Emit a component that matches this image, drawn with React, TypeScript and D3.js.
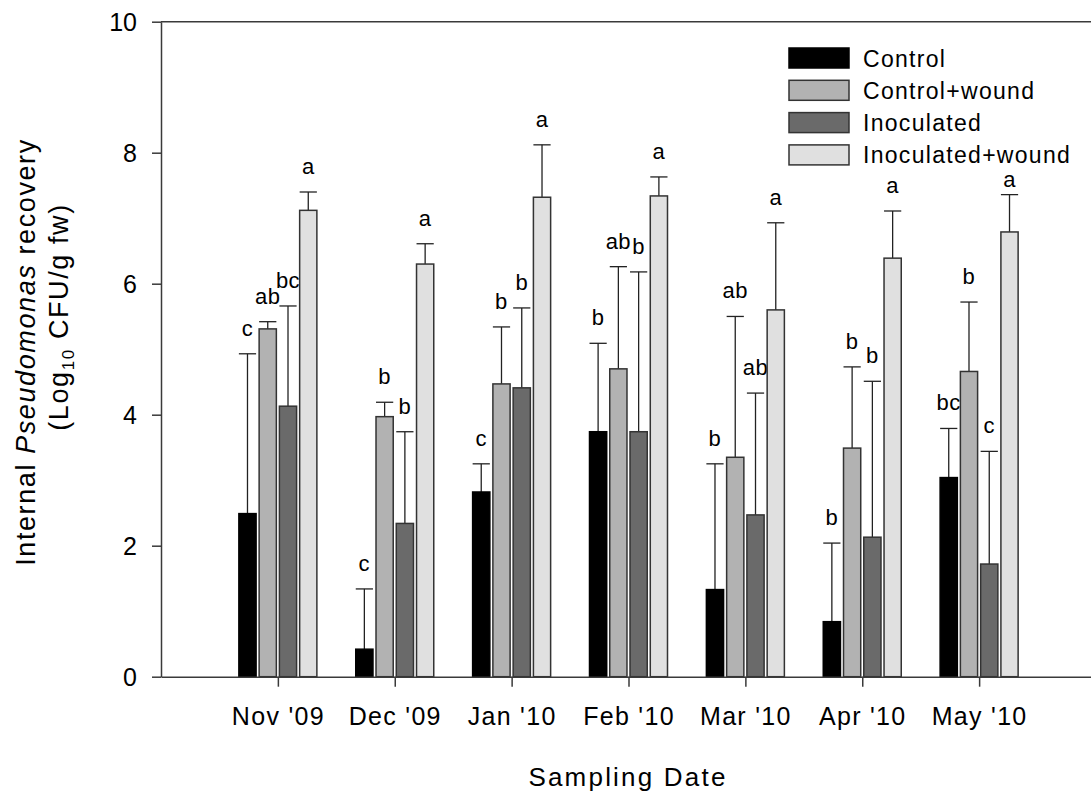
import React, { useEffect, useRef } from "react";
import * as d3 from "d3";

// Sampling dates and treatment groups
const dates = ["Nov '09", "Dec '09", "Jan '10", "Feb '10", "Mar '10", "Apr '10", "May '10"];
const treatments = ["Control", "Control+wound", "Inoculated", "Inoculated+wound"];

// Mean internal recovery (log10 CFU/g fw) per date
const controlMean = [2.49, 0.42, 2.82, 3.74, 1.33, 0.84, 3.04];
const controlWoundMean = [5.31, 3.97, 4.47, 4.70, 3.35, 3.49, 4.66];
const inoculatedMean = [4.13, 2.34, 4.41, 3.74, 2.47, 2.13, 1.72];
const inoculatedWoundMean = [7.12, 6.30, 7.32, 7.34, 5.60, 6.39, 6.79];

// Standard error (upper bar only)
const controlSE = [2.44, 0.92, 0.43, 1.35, 1.92, 1.20, 0.75];
const controlWoundSE = [0.11, 0.22, 0.87, 1.56, 2.15, 1.24, 1.06];
const inoculatedSE = [1.53, 1.40, 1.22, 2.44, 1.86, 2.38, 1.72];
const inoculatedWoundSE = [0.28, 0.31, 0.80, 0.29, 1.33, 0.72, 0.57];

// Mean separation letters
const controlLetters = ["c", "c", "c", "b", "b", "b", "bc"];
const controlWoundLetters = ["ab", "b", "b", "ab", "ab", "b", "b"];
const inoculatedLetters = ["bc", "b", "b", "b", "ab", "b", "c"];
const inoculatedWoundLetters = ["a", "a", "a", "a", "a", "a", "a"];

const yTicks = [0, 2, 4, 6, 8, 10];

const fills = ["#000000", "#b2b2b2", "#6a6a6a", "#e0e0e0"];

const series = [
  { name: treatments[0], mean: controlMean, se: controlSE, letters: controlLetters },
  { name: treatments[1], mean: controlWoundMean, se: controlWoundSE, letters: controlWoundLetters },
  { name: treatments[2], mean: inoculatedMean, se: inoculatedSE, letters: inoculatedLetters },
  { name: treatments[3], mean: inoculatedWoundMean, se: inoculatedWoundSE, letters: inoculatedWoundLetters },
];

const W = 1091;
const H = 791;
const FONT = "'Liberation Sans', Arial, sans-serif";
const AXIS = "#3a3a3a";

export default function App() {
  const ref = useRef<SVGSVGElement>(null);

  useEffect(() => {
    const svg = d3.select(ref.current);
    svg.selectAll("*").remove();

    const left = 161;
    const top = 21.7;
    const bottom = 676.7;

    const x = d3.scaleLinear().domain([0, dates.length + 1]).range([left, 1096]);
    const y = d3.scaleLinear().domain([0, 10]).range([bottom, top]);
    const inner = d3.scaleBand<string>().domain(treatments).range([-39, 39]).paddingInner(0.15);
    const bw = inner.bandwidth();

    // Legend block geometry (used to keep letters clear of it)
    const legX = 789;
    const legY = 48;
    const legStep = 32.3;
    const legBottom = legY + 3 * legStep + 20;

    // Bars, error bars and letters
    series.forEach((s, si) => {
      const g = svg.append("g");
      dates.forEach((_, i) => {
        const x0 = x(i + 1) + (inner(s.name) as number);
        const cx = x0 + bw / 2;
        const capY = y(s.mean[i] + s.se[i]);
        g.append("line")
          .attr("x1", cx).attr("x2", cx)
          .attr("y1", y(s.mean[i])).attr("y2", capY)
          .attr("stroke", "#222").attr("stroke-width", 1.3);
        g.append("line")
          .attr("x1", x0).attr("x2", x0 + bw)
          .attr("y1", capY).attr("y2", capY)
          .attr("stroke", "#222").attr("stroke-width", 1.3);
        g.append("rect")
          .attr("x", x0).attr("y", y(s.mean[i]))
          .attr("width", bw).attr("height", y(0) - y(s.mean[i]))
          .attr("fill", fills[si])
          .attr("stroke", si === 0 ? "#000" : "#333")
          .attr("stroke-width", 1.5);
        let ly = capY - 18;
        if (cx > legX && ly - 16 < legBottom) ly = capY - 8;
        g.append("text")
          .attr("x", cx).attr("y", ly)
          .attr("text-anchor", "middle")
          .attr("font-family", FONT).attr("font-size", 22)
          .attr("letter-spacing", 0.5)
          .attr("fill", "#000")
          .text(s.letters[i]);
      });
    });

    // Top frame line
    svg.append("line")
      .attr("x1", left).attr("x2", W).attr("y1", top).attr("y2", top)
      .attr("stroke", AXIS).attr("stroke-width", 1.5);

    // Y axis
    const ya = svg.append("g").attr("transform", `translate(${left},0)`)
      .call(d3.axisLeft(y).tickValues(yTicks).tickSize(9).tickSizeOuter(0).tickPadding(15).tickFormat(d3.format("d")));
    ya.select(".domain").attr("stroke", AXIS).attr("stroke-width", 1.5);
    ya.selectAll(".tick line").attr("stroke", AXIS).attr("stroke-width", 1.5);
    ya.selectAll(".tick text")
      .attr("font-family", FONT).attr("font-size", 25).attr("fill", "#000")
      .attr("dy", "0.36em");

    // X axis
    const xa = svg.append("g").attr("transform", `translate(0,${bottom})`)
      .call(d3.axisBottom(x).tickValues(d3.range(1, dates.length + 1)).tickSize(10).tickSizeOuter(0)
        .tickFormat((d) => dates[(d as number) - 1]));
    xa.select(".domain").attr("stroke", AXIS).attr("stroke-width", 1.5);
    xa.selectAll(".tick line").attr("stroke", AXIS).attr("stroke-width", 1.5);
    xa.selectAll(".tick text")
      .attr("font-family", FONT).attr("font-size", 25).attr("fill", "#000")
      .attr("letter-spacing", 1.3)
      .attr("y", 48.5).attr("dy", 0);

    // X title
    svg.append("text")
      .attr("x", 628).attr("y", 786)
      .attr("text-anchor", "middle")
      .attr("font-family", FONT).attr("font-size", 26).attr("letter-spacing", 2.2)
      .text("Sampling Date");

    // Y title, two lines
    const t1 = svg.append("text")
      .attr("transform", "translate(35,352) rotate(-90)")
      .attr("text-anchor", "middle")
      .attr("font-family", FONT).attr("font-size", 27).attr("letter-spacing", 1.6);
    t1.append("tspan").text("Internal ");
    t1.append("tspan").attr("font-style", "italic").text("Pseudomonas");
    t1.append("tspan").text(" recovery");

    const t2 = svg.append("text")
      .attr("transform", "translate(68,317) rotate(-90)")
      .attr("text-anchor", "middle")
      .attr("font-family", FONT).attr("font-size", 27).attr("letter-spacing", 1.6);
    t2.append("tspan").text("(Log");
    t2.append("tspan").attr("font-size", 17).attr("dy", 6).text("10");
    t2.append("tspan").attr("dy", -6).text(" CFU/g fw)");

    // Legend
    const lg = svg.append("g").attr("transform", `translate(${legX},${legY})`);
    series.forEach((s, i) => {
      const row = lg.append("g").attr("transform", `translate(0,${i * legStep})`);
      row.append("rect")
        .attr("width", 60).attr("height", 20)
        .attr("fill", fills[i])
        .attr("stroke", i === 0 ? "#000" : "#333").attr("stroke-width", 1.5);
      row.append("text")
        .attr("x", 74).attr("y", 18.5)
        .attr("font-family", FONT).attr("font-size", 23).attr("letter-spacing", 1.3)
        .text(s.name);
    });
  }, []);

  return (
    <svg
      ref={ref}
      width={W}
      height={H}
      style={{ position: "absolute", left: 0, top: 0, background: "#fff" }}
    />
  );
}
